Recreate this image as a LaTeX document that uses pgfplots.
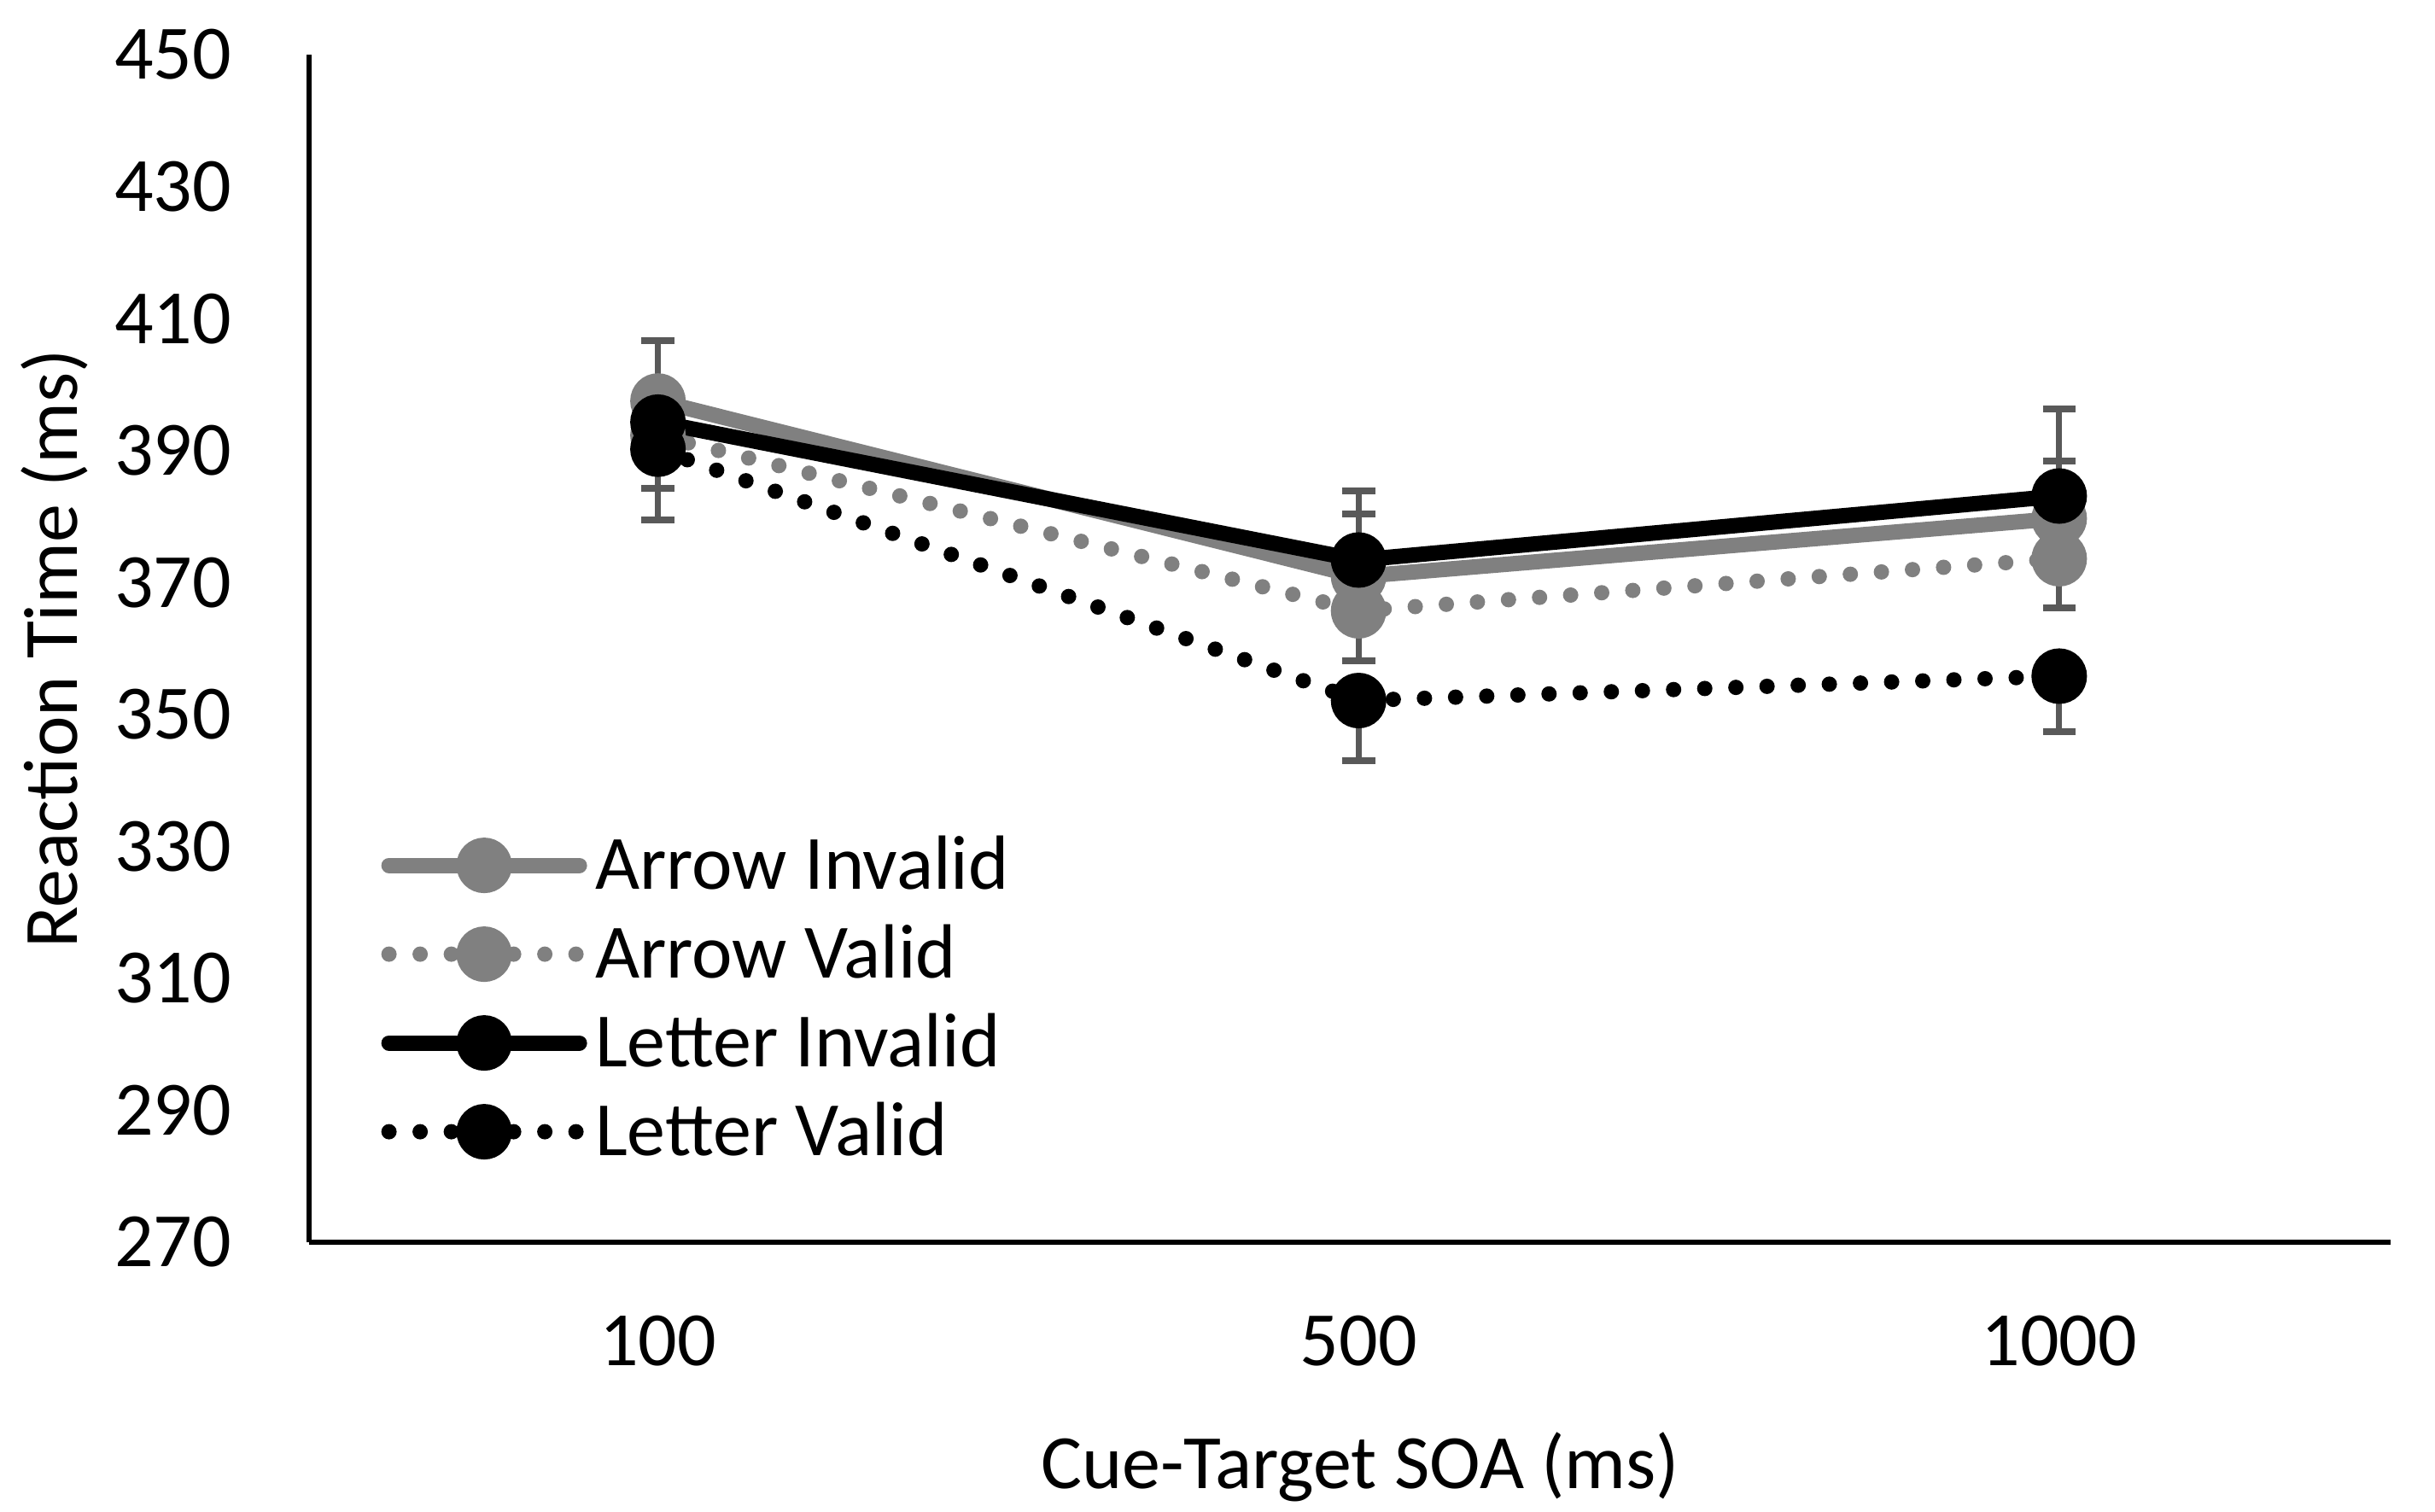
\documentclass[border=0pt]{standalone}
\usepackage{fontspec}
\setmainfont{Carlito}
\usepackage{pgfplots}
\pgfplotsset{compat=1.18}
\usetikzlibrary{calc}
\definecolor{arrowgray}{HTML}{808080}
\definecolor{errgray}{HTML}{595959}
\begin{document}
\fontsize{18}{21.6}\selectfont
\begin{tikzpicture}
\begin{axis}[name=ax, scale only axis, width=487.6pt, height=278.2pt,
  xmin=-0.498, xmax=2.473, ymin=270, ymax=450,
  ytick={270,290,...,450}, xtick={0,1,2}, xticklabels={100,500,1000},
  axis x line*=bottom, axis y line*=left,
  axis line style={line width=1.1pt, black},
  major tick length=0pt,
  clip=false,
  tick label style={font=\fontsize{18}{21.6}\selectfont},
  /pgf/number format/assume math mode=true,
  yticklabel style={xshift=-12pt},
  xticklabel style={yshift=-11pt},
  label style={font=\fontsize{18}{21.6}\selectfont},
  xlabel={Cue-Target SOA (ms)}, ylabel={Reaction Time (ms)},
  xlabel style={at={(axis description cs:0.505,-0.189)}, anchor=center},
  ylabel style={at={(axis description cs:-0.1222,0.5)}, anchor=center},
  legend style={draw=none, fill=none, inner sep=0pt,
    at={(axis description cs:0.0343,0.345)}, anchor=north west,
    font=\fontsize{18}{21.6}\selectfont, row sep=7.8pt,
    nodes={inner sep=0pt, text height=13pt, text depth=0pt},
    /tikz/every odd column/.append style={column sep=1.9pt}},
  legend cell align=left,
  legend image code/.code={\draw[mark repeat=2,mark phase=2,#1] plot coordinates {(0pt,-1pt) (22.3pt,-1pt) (44.6pt,-1pt)};},
  error bars/y explicit,
  error bars/error bar style={color=errgray, line width=1.4pt, solid},
  error bars/error mark options={rotate=90, mark size=3.85pt, line width=1.6pt, color=errgray, solid},
]
\addplot[color=arrowgray, line width=3.6pt, line cap=round, mark=*, mark size=4.7pt,
  mark options={solid, fill=arrowgray, draw=none},
  error bars/.cd, y dir=plus]
  coordinates {(0,397.5) +- (0,9.2) (1,370.9) +- (0,9.5) (2,379.7) +- (0,8.7)};
\addlegendentry{Arrow Invalid}
\addplot[color=arrowgray, line width=3.6pt, line cap=round, dash pattern=on 0pt off 7.3pt,
  mark=*, mark size=4.7pt, mark options={solid, fill=arrowgray, draw=none},
  error bars/.cd, y dir=minus]
  coordinates {(0,392.3) +- (0,8.0) (1,365.7) +- (0,7.6) (2,373.6) +- (0,7.4)};
\addlegendentry{Arrow Valid}
\addplot[color=black, line width=3.6pt, line cap=round, mark=*, mark size=4.7pt,
  mark options={solid, fill=black, draw=none},
  error bars/.cd, y dir=plus]
  coordinates {(0,394.3) +- (0,12.4) (1,373.4) +- (0,10.5) (2,383.1) +- (0,13.2)};
\addlegendentry{Letter Invalid}
\addplot[color=black, line width=3.6pt, line cap=round, dash pattern=on 0pt off 7.3pt,
  mark=*, mark size=4.7pt, mark options={solid, fill=black, draw=none},
  error bars/.cd, y dir=minus]
  coordinates {(0,390.2) +- (0,10.7) (1,352.1) +- (0,9.1) (2,355.8) +- (0,8.4)};
\addlegendentry{Letter Valid}
\end{axis}
\pgfresetboundingbox
\path ($(ax.south west)+(-72.4pt,-63pt)$) rectangle ($(ax.north east)+(10.4pt,12.8pt)$);
\end{tikzpicture}
\end{document}
